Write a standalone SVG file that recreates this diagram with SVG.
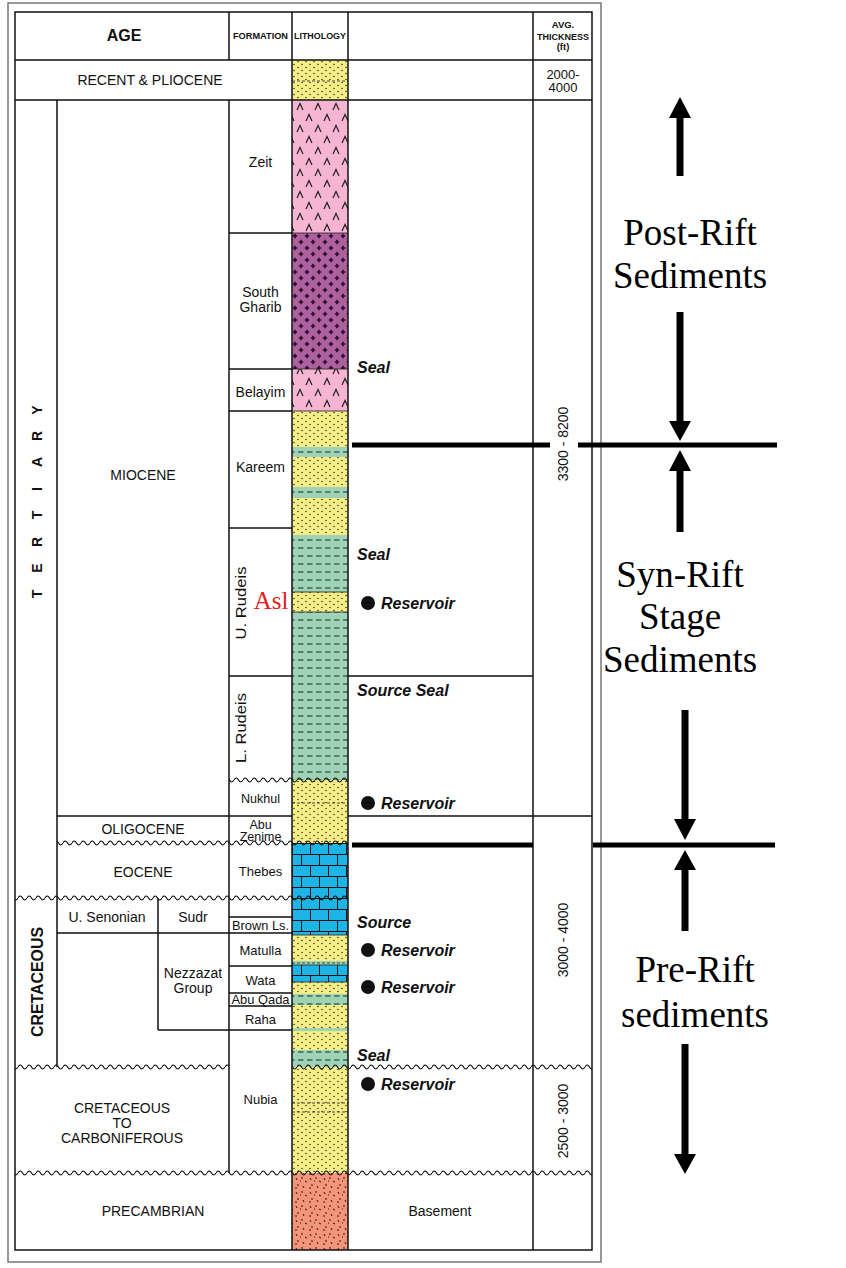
<svg xmlns="http://www.w3.org/2000/svg" width="846" height="1268" viewBox="0 0 846 1268">
<style>
.t{font-family:"Liberation Sans",Arial,Helvetica,sans-serif;fill:#111;text-anchor:middle}
.hd{font-size:9.5px;font-weight:bold}
.ag{font-size:14px}
.fm{font-size:13px}
.lab{font-family:"Liberation Sans",Arial,sans-serif;font-size:16px;font-weight:bold;font-style:italic;fill:#111}
.big{font-family:"Liberation Serif","Times New Roman",serif;font-size:37px;fill:#000;text-anchor:middle}
.ln{stroke:#111;stroke-width:1.5;fill:none}
.thin{stroke:#222;stroke-width:0.8;fill:none}
.dsh{stroke:#333;stroke-width:0.9;stroke-dasharray:3 2;fill:none}
.thick{stroke:#000;stroke-width:5;fill:none}
.shaft{stroke:#000;stroke-width:7;fill:none}
</style>
<defs>
<pattern id="sand" width="8" height="6" patternUnits="userSpaceOnUse"><rect width="8" height="6" fill="#f6ef88"/><circle cx="2" cy="1.5" r="0.75" fill="#222"/><circle cx="6" cy="4.5" r="0.75" fill="#222"/></pattern>
<pattern id="shale" width="9" height="8" patternUnits="userSpaceOnUse"><rect width="9" height="8" fill="#9fd3b6"/><line x1="1" y1="4" x2="6.5" y2="4" stroke="#1d3b2c" stroke-width="1.1"/></pattern>
<pattern id="evap" width="18" height="22" patternUnits="userSpaceOnUse" x="291" y="100"><rect width="18" height="22" fill="#f6b6d2"/><path d="M6 10 L9 3.5 L12 10 M-3 21 L0 14.5 L3 21 M15 21 L18 14.5 L21 21" fill="none" stroke="#222" stroke-width="1.2"/></pattern>
<pattern id="cross" width="12" height="12" patternUnits="userSpaceOnUse" x="292" y="233"><rect width="12" height="12" fill="#ad629f"/><path d="M3 0.8v4.4M0.8 3h4.4M9 6.8v4.4M6.8 9h4.4" stroke="#2e0629" stroke-width="1.6"/></pattern>
<pattern id="lime" width="18" height="22" patternUnits="userSpaceOnUse" x="292" y="843"><rect width="18" height="22" fill="#1eb4e6"/><path d="M0 0.5H18M0 11.5H18M0.5 0V11M9.5 11V22" stroke="#111" stroke-width="1"/></pattern>
<pattern id="base" width="14" height="14" patternUnits="userSpaceOnUse"><rect width="14" height="14" fill="#f2957a"/><path d="M2 2l1 2M8 1v2M11 5l2 1M4 8v2M9 10l1 2M1 12h2M6 5h1" stroke="#3b1208" stroke-width="1"/></pattern>
<pattern id="wave" width="9" height="8" patternUnits="userSpaceOnUse"><path d="M0 4 Q2.25 0 4.5 4 T9 4" fill="none" stroke="#111" stroke-width="1.2"/></pattern>
</defs>
<rect width="846" height="1268" fill="#fff"/>
<rect x="8" y="3" width="593" height="1259" fill="#fff" stroke="#777" stroke-width="1.5"/>

<g id="lithology">
<rect x="292" y="60" width="56" height="40" fill="url(#sand)"/>
<line class="dsh" x1="292" y1="81" x2="348" y2="81"/>
<rect x="292" y="100" width="56" height="133" fill="url(#evap)"/>
<rect x="292" y="233" width="56" height="136" fill="url(#cross)"/>
<rect x="292" y="369" width="56" height="42" fill="url(#evap)"/>
<rect x="292" y="411" width="56" height="36" fill="url(#sand)"/>
<rect x="292" y="447" width="56" height="10" fill="url(#shale)"/>
<rect x="292" y="457" width="56" height="30" fill="url(#sand)"/>
<rect x="292" y="487" width="56" height="11" fill="url(#shale)"/>
<rect x="292" y="498" width="56" height="37" fill="url(#sand)"/>
<rect x="292" y="535" width="56" height="57" fill="url(#shale)"/>
<rect x="292" y="592" width="56" height="20" fill="url(#sand)"/>
<rect x="292" y="612" width="56" height="168" fill="url(#shale)"/>
<rect x="292" y="780" width="56" height="63" fill="url(#sand)"/>
<line class="dsh" x1="292" y1="803" x2="348" y2="803"/>
<rect x="292" y="843" width="56" height="92" fill="url(#lime)"/>
<rect x="292" y="935" width="56" height="26" fill="url(#sand)"/>
<rect x="292" y="961" width="56" height="4" fill="#9fd3b6"/>
<line class="dsh" x1="292" y1="963" x2="348" y2="963"/>
<rect x="292" y="965" width="56" height="17" fill="url(#lime)"/>
<rect x="292" y="982" width="56" height="12" fill="url(#sand)"/>
<rect x="292" y="994" width="56" height="11" fill="url(#shale)"/>
<rect x="292" y="1005" width="56" height="23" fill="url(#sand)"/>
<rect x="292" y="1028" width="56" height="3" fill="#9fd3b6"/>
<rect x="292" y="1031" width="56" height="19" fill="url(#sand)"/>
<rect x="292" y="1050" width="56" height="17" fill="url(#shale)"/>
<rect x="292" y="1067" width="56" height="106" fill="url(#sand)"/>
<line class="dsh" x1="292" y1="1103" x2="348" y2="1103"/>
<line class="dsh" x1="292" y1="1112" x2="348" y2="1112"/>
<rect x="292" y="1173" width="56" height="77" fill="url(#base)"/>
<path class="thin" d="M292 233H348M292 369H348M292 411H348M292 592H348M292 612H348M292 935H348M292 965H348M292 982H348"/>
</g>

<g id="grid">
<rect x="15" y="12" width="577" height="1238" class="ln"/>
<path class="ln" d="M15 60H592M15 100H592M229 233H292M229 369H292M229 411H292M229 528H292M229 676H292M348 676H533M57 816H292M348 816H592M229 917H292M57 933H292M229 966H292M229 993H292M229 1006H292M158 1030H292"/>
<path class="ln" d="M57 100V1067M158 898V1030M229 12V60M229 100V1173M292 12V1250M348 12V1250M533 12V1250"/>
<rect x="229" y="0" width="119" height="8" fill="url(#wave)" transform="translate(0,776)"/>
<rect x="57" y="0" width="291" height="8" fill="url(#wave)" transform="translate(0,839)"/>
<rect x="15" y="0" width="333" height="8" fill="url(#wave)" transform="translate(0,894)"/>
<rect x="15" y="0" width="214" height="8" fill="url(#wave)" transform="translate(0,1063)"/>
<rect x="292" y="0" width="300" height="8" fill="url(#wave)" transform="translate(0,1063)"/>
<rect x="15" y="0" width="577" height="8" fill="url(#wave)" transform="translate(0,1169)"/>
</g>

<g id="header">
<text class="t" x="124" y="41" style="font-size:16px;font-weight:bold">AGE</text>
<text class="t hd" x="260.5" y="39" textLength="55" lengthAdjust="spacingAndGlyphs">FORMATION</text>
<text class="t hd" x="320" y="39" textLength="52" lengthAdjust="spacingAndGlyphs">LITHOLOGY</text>
<text class="t hd" x="563" y="28">AVG.</text>
<text class="t hd" x="563" y="40" textLength="52" lengthAdjust="spacingAndGlyphs">THICKNESS</text>
<text class="t hd" x="563" y="50">(ft)</text>
</g>

<g id="ages">
<text class="t ag" x="150" y="85">RECENT &amp; PLIOCENE</text>
<text class="t" x="563" y="79" style="font-size:13px">2000-</text>
<text class="t" x="563" y="92" style="font-size:13px">4000</text>
<g transform="translate(37,502) rotate(-90)"><text class="t" y="5" x="-92 -66 -40 -13 13 40 66 92" style="font-size:14px;font-weight:bold">TERTIARY</text></g>
<text class="t ag" x="143" y="480">MIOCENE</text>
<text class="t ag" x="143" y="834">OLIGOCENE</text>
<text class="t ag" x="143" y="877">EOCENE</text>
<g transform="translate(37,982) rotate(-90)"><text class="t" y="6" style="font-size:16px;font-weight:bold" textLength="110" lengthAdjust="spacingAndGlyphs">CRETACEOUS</text></g>
<text class="t ag" x="107" y="922">U. Senonian</text>
<text class="t ag" x="193" y="922">Sudr</text>
<text class="t ag" x="193" y="978">Nezzazat</text>
<text class="t ag" x="193" y="993">Group</text>
<text class="t ag" x="122" y="1113">CRETACEOUS</text>
<text class="t ag" x="122" y="1128">TO</text>
<text class="t ag" x="122" y="1143">CARBONIFEROUS</text>
<text class="t ag" x="153" y="1216">PRECAMBRIAN</text>
<text class="t ag" x="440" y="1216">Basement</text>
</g>

<g id="formations">
<text class="t" x="260.5" y="167" style="font-size:14px">Zeit</text>
<text class="t" x="260.5" y="297" style="font-size:14px">South</text>
<text class="t" x="260.5" y="312" style="font-size:14px">Gharib</text>
<text class="t" x="260.5" y="397" style="font-size:14px">Belayim</text>
<text class="t" x="260.5" y="472" style="font-size:14px">Kareem</text>
<g transform="translate(241,603) rotate(-90)"><text class="t" y="5" style="font-size:14px" textLength="73" lengthAdjust="spacingAndGlyphs">U. Rudeis</text></g>
<text x="271" y="609" style="font-family:'Liberation Serif','Times New Roman',serif;font-size:25px;fill:#e3201f;text-anchor:middle">Asl</text>
<g transform="translate(241,728) rotate(-90)"><text class="t" y="5" style="font-size:14px" textLength="70" lengthAdjust="spacingAndGlyphs">L. Rudeis</text></g>
<text class="t" x="260.5" y="803" style="font-size:12.5px">Nukhul</text>
<text class="t" x="260.5" y="829" style="font-size:12.5px">Abu</text>
<text class="t" x="260.5" y="841" style="font-size:12.5px">Zenime</text>
<text class="t fm" x="260.5" y="876">Thebes</text>
<text class="t fm" x="260.5" y="930" textLength="57" lengthAdjust="spacingAndGlyphs">Brown Ls.</text>
<text class="t fm" x="260.5" y="955">Matulla</text>
<text class="t fm" x="260.5" y="985">Wata</text>
<text class="t fm" x="260.5" y="1004" textLength="58" lengthAdjust="spacingAndGlyphs">Abu Qada</text>
<text class="t fm" x="260.5" y="1024">Raha</text>
<text class="t fm" x="260.5" y="1104">Nubia</text>
</g>

<g id="thickness">
<g transform="translate(563,444) rotate(-90)"><text class="t" y="5" style="font-size:14px">3300 - 8200</text></g>
<g transform="translate(563,940) rotate(-90)"><text class="t" y="5" style="font-size:14px">3000 - 4000</text></g>
<g transform="translate(563,1121) rotate(-90)"><text class="t" y="5" style="font-size:14px">2500 - 3000</text></g>
</g>

<g id="petroleum">
<text class="lab" x="357" y="373">Seal</text>
<text class="lab" x="357" y="560">Seal</text>
<circle cx="368" cy="603" r="7" fill="#111"/><text class="lab" x="381" y="609">Reservoir</text>
<text class="lab" x="357" y="696">Source Seal</text>
<circle cx="368" cy="803" r="7" fill="#111"/><text class="lab" x="381" y="809">Reservoir</text>
<text class="lab" x="357" y="928">Source</text>
<circle cx="368" cy="950" r="7" fill="#111"/><text class="lab" x="381" y="956">Reservoir</text>
<circle cx="368" cy="987" r="7" fill="#111"/><text class="lab" x="381" y="993">Reservoir</text>
<text class="lab" x="357" y="1061">Seal</text>
<circle cx="368" cy="1084" r="7" fill="#111"/><text class="lab" x="381" y="1090">Reservoir</text>
</g>

<g id="stages">
<text class="big" x="690" y="245">Post-Rift</text>
<text class="big" x="690" y="288">Sediments</text>
<text class="big" x="680" y="587">Syn-Rift</text>
<text class="big" x="680" y="629">Stage</text>
<text class="big" x="680" y="672">Sediments</text>
<text class="big" x="695" y="982">Pre-Rift</text>
<text class="big" x="695" y="1027">sediments</text>
</g>

<g id="connectors">
<path class="thick" d="M352 445H550M578 445H777M352 845H533M593 845H775"/>
<path class="shaft" d="M680 116V176M680 312V423M680 469V532M685 710V821M685 868V931M685 1044V1156"/>
<path d="M669 118L680 97L691 118Z M669 421L680 441L691 421Z M669 471L680 450L691 471Z M674 819L685 840L696 819Z M674 870L685 850L696 870Z M674 1154L685 1174L696 1154Z" fill="#000"/>
</g>
</svg>
